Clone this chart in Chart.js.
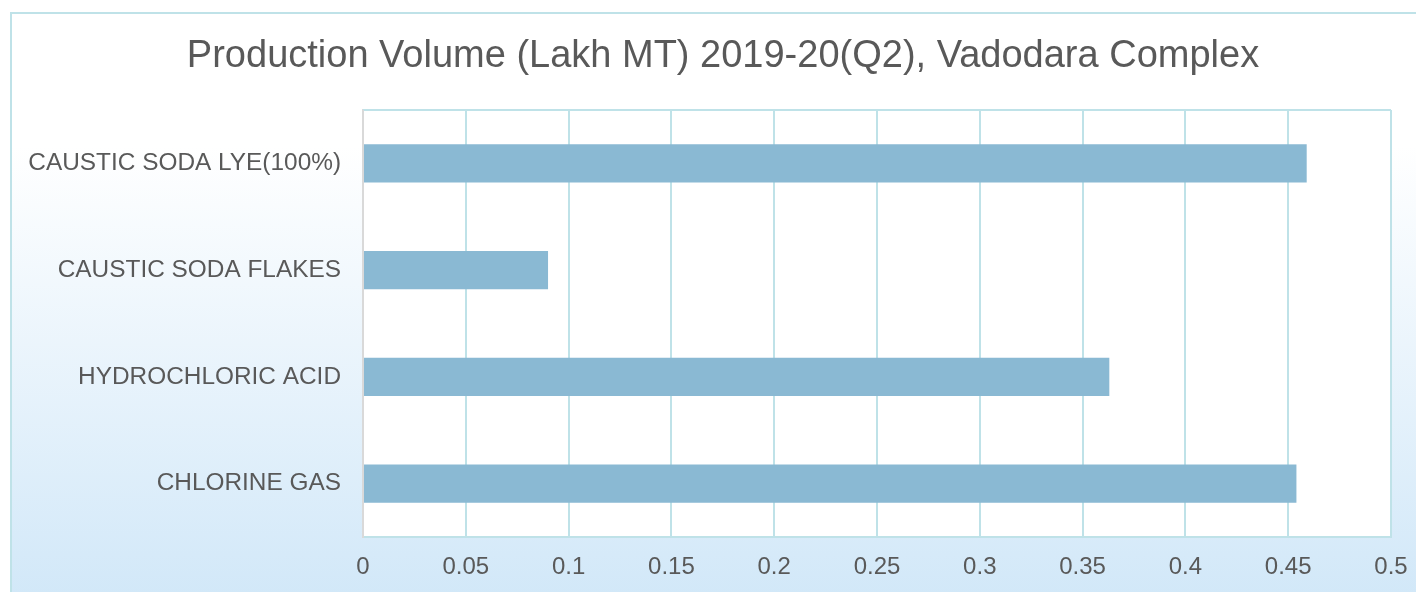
<!DOCTYPE html>
<html>
<head>
<meta charset="utf-8">
<script src="https://cdn.jsdelivr.net/npm/chart.js@4/dist/chart.umd.min.js"></script>
<style>
  html, body { margin: 0; padding: 0; background: #fff; }
  #wrap { position: relative; width: 1416px; height: 592px; overflow: hidden; }
  #frame {
    position: absolute; left: 10px; top: 12px; width: 1420px; height: 600px;
    border: 2px solid #bfe2e8;
    background: linear-gradient(to bottom, #ffffff 22%, #d0e7f8 100%);
  }
  canvas { position: absolute; left: 0; top: 0; }
</style>
</head>
<body>
<div id="wrap">
  <div id="frame"></div>
  <canvas id="myChart" width="1416" height="592"></canvas>
</div>
<script>
// datos del grafico
const categorias = ['CAUSTIC SODA LYE(100%)', 'CAUSTIC SODA FLAKES', 'HYDROCHLORIC ACID', 'CHLORINE GAS'];
const valores = [0.459, 0.09, 0.363, 0.454];
const ticksX = [0, 0.05, 0.1, 0.15, 0.2, 0.25, 0.3, 0.35, 0.4, 0.45, 0.5];
const titulo = 'Production Volume (Lakh MT) 2019-20(Q2), Vadodara Complex';

const gris = '#595959';
const fuente = 'Helvetica, "Liberation Sans", Arial, sans-serif';

// fondo blanco del area, borde y titulo
const areaPlugin = {
    id: 'areaPlugin',
    beforeDraw(chart) {
        const { ctx, chartArea: a } = chart;
        ctx.save();
        ctx.fillStyle = '#ffffff';
        ctx.fillRect(a.left, a.top, a.right - a.left, a.bottom - a.top);
        ctx.restore();
    },
    afterDraw(chart) {
        const { ctx, chartArea: a } = chart;
        ctx.save();
        ctx.strokeStyle = '#bfe2e8';
        ctx.lineWidth = 2;
        ctx.beginPath();
        ctx.moveTo(a.left, a.top);
        ctx.lineTo(a.right, a.top);
        ctx.stroke();
        ctx.strokeStyle = '#d9d9d9';
        ctx.beginPath();
        ctx.moveTo(a.left, a.top);
        ctx.lineTo(a.left, a.bottom);
        ctx.stroke();
        // titulo
        ctx.fillStyle = gris;
        ctx.font = '38px ' + fuente;
        ctx.textAlign = 'center';
        ctx.textBaseline = 'middle';
        ctx.fillText(titulo, 723, 57);
        ctx.restore();
    }
};

const ctx = document.getElementById('myChart').getContext('2d');

const myChart = new Chart(ctx, {
    type: 'bar',
    data: {
        labels: categorias,
        datasets: [{
            label: 'valor',
            data: valores,
            backgroundColor: '#8ab9d3',
            borderWidth: 0,
            barPercentage: 0.356,
            categoryPercentage: 1
        }]
    },
    plugins: [areaPlugin],
    options: {
        indexAxis: 'y',
        responsive: false,
        animation: false,
        layout: { padding: { left: 0, right: 0, top: 110, bottom: 0 } },
        plugins: {
            legend: { display: false },
            tooltip: { enabled: false },
            title: { display: false }
        },
        scales: {
            x: {
                min: 0,
                max: 0.5,
                afterBuildTicks: (s) => { s.ticks = ticksX.map(v => ({ value: v })); },
                afterFit: (s) => { s.height = 55; s.paddingRight = 25; s.paddingLeft = 0; },
                grid: { color: '#bfe2e8', lineWidth: 2, drawTicks: false },
                border: { color: '#bfe2e8', width: 2 },
                ticks: {
                    color: gris,
                    font: { family: fuente, size: 24 },
                    padding: 16,
                    maxRotation: 0,
                    callback: (v) => String(v)
                }
            },
            y: {
                afterFit: (s) => { s.width = 363; },
                grid: { display: false, drawTicks: false },
                border: { color: '#d9d9d9', width: 2 },
                ticks: {
                    color: gris,
                    font: { family: fuente, size: 24.4 },
                    padding: 22
                }
            }
        }
    }
});
</script>
</body>
</html>
